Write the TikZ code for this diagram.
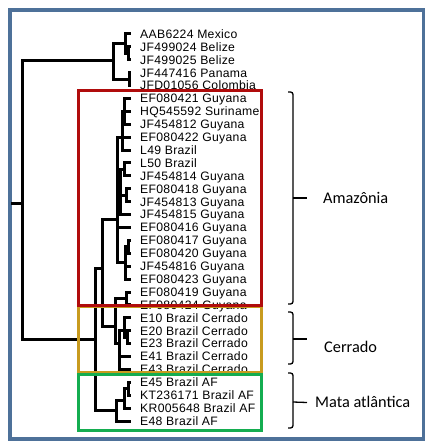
\documentclass[tikz,border=0pt]{standalone}
\usepackage{fontspec}
\setmainfont{Liberation Sans}
\newfontfamily\leaffont[LetterSpace=2.5]{Liberation Sans}
\newfontfamily\grpfont{Carlito}
\usepackage{xcolor}
\usepackage{tikz}

\definecolor{framebl}{HTML}{4E7199}
\definecolor{amzred}{HTML}{B00C0C}
\definecolor{cerrgold}{HTML}{C89B1F}
\definecolor{afgreen}{HTML}{14AD50}

\begin{document}
\begin{tikzpicture}[
  x=1pt, y=-1pt,
  leaf/.style={anchor=west, inner sep=0pt, text height=8.7pt, text depth=0pt, font=\leaffont\fontsize{12.2}{13}\selectfont},
  grp/.style={anchor=west, inner sep=0pt, text height=10.5pt, text depth=0pt, font=\grpfont\fontsize{16.3}{18}\selectfont},
  limb/.style={line width=3pt},
  twig/.style={line width=3pt, shorten >=9pt},
  brk/.style={line width=1.3pt, rounded corners=2.5pt},
  hbox/.style={line width=3pt}
]
\useasboundingbox (0,0) rectangle (432,446);
\draw[framebl, line width=3.5pt] (10,10) rectangle (423.5,439);

% sequences
\node[leaf] (l1)  at (140,34)    {AAB6224 Mexico};
\node[leaf] (l2)  at (140,46.9)  {JF499024 Belize};
\node[leaf] (l3)  at (140,59.8)  {JF499025 Belize};
\node[leaf] (l4)  at (140,72.7)  {JF447416 Panama};
\node[leaf] (l5)  at (140,85.6)  {JFD01056 Colombia};
\node[leaf] (l6)  at (140,98.5)  {EF080421 Guyana};
\node[leaf] (l7)  at (140,111.4) {HQ545592 Suriname};
\node[leaf] (l8)  at (140,124.3) {JF454812 Guyana};
\node[leaf] (l9)  at (140,137.2) {EF080422 Guyana};
\node[leaf] (l10) at (140,150.1) {L49 Brazil};
\node[leaf] (l11) at (140,163)   {L50 Brazil};
\node[leaf] (l12) at (140,175.9) {JF454814 Guyana};
\node[leaf] (l13) at (140,188.8) {EF080418 Guyana};
\node[leaf] (l14) at (140,201.7) {JF454813 Guyana};
\node[leaf] (l15) at (140,214.6) {JF454815 Guyana};
\node[leaf] (l16) at (140,227.5) {EF080416 Guyana};
\node[leaf] (l17) at (140,240.4) {EF080417 Guyana};
\node[leaf] (l18) at (140,253.3) {EF080420 Guyana};
\node[leaf] (l19) at (140,266.2) {JF454816 Guyana};
\node[leaf] (l20) at (140,279.1) {EF080423 Guyana};
\node[leaf] (l21) at (140,292)   {EF080419 Guyana};
\node[leaf] (l22) at (140,304.9) {EF080424 Guyana};
\node[leaf] (l23) at (140,317.8) {E10 Brazil Cerrado};
\node[leaf] (l24) at (140,330.7) {E20 Brazil Cerrado};
\node[leaf] (l25) at (140,343.6) {E23 Brazil Cerrado};
\node[leaf] (l26) at (140,356.5) {E41 Brazil Cerrado};
\node[leaf] (l27) at (140,369.4) {E43 Brazil Cerrado};
\node[leaf] (l28) at (140,382.3) {E45 Brazil AF};
\node[leaf] (l29) at (140,395.2) {KT236171 Brazil AF};
\node[leaf] (l30) at (140,408.1) {KR005648 Brazil AF};
\node[leaf] (l31) at (140,421)   {E48 Brazil AF};

% internal nodes
\coordinate (stm)  at (11,203);
\coordinate (root) at (22,203);
\coordinate (og)   at (113,61);
\coordinate (og1)  at (125,44);
\coordinate (og1a) at (128,53.4);
\coordinate (og2)  at (129,79.2);
\coordinate (ing)  at (95,339);
\coordinate (am0)  at (102,268);
\coordinate (amz)  at (117,219);
\coordinate (am1)  at (122,138);
\coordinate (am1a) at (124,111.4);
\coordinate (am2)  at (120,190);
\coordinate (am2a) at (124,169.5);
\coordinate (am2b) at (126,195.3);
\coordinate (am3)  at (125,262);
\coordinate (am3a) at (128,246.9);
\coordinate (cg)   at (115,326);
\coordinate (ef)   at (126,298.5);
\coordinate (ce)   at (119,343);
\coordinate (ce1)  at (124,330);
\coordinate (ce1a) at (127,337.2);
\coordinate (af)   at (116,410);
\coordinate (af1)  at (124,400);
\coordinate (af1a) at (128,388.8);

% tree
\draw[limb] (stm) -- (root);
\draw[limb] (root) |- (og);
\draw[limb] (root) |- (ing);
\draw[limb] (og) |- (og1);
\draw[limb] (og) |- (og2);
\draw[twig] (og1) |- (l1.west);
\draw[limb] (og1) |- (og1a);
\draw[twig] (og1a) |- (l2.west);
\draw[twig] (og1a) |- (l3.west);
\draw[twig] (og2) |- (l4.west);
\draw[twig] (og2) |- (l5.west);
\draw[limb] (ing) |- (am0);
\draw[limb] (ing) |- (af);
\draw[limb] (am0) |- (amz);
\draw[limb] (am0) |- (cg);
\draw[limb] (amz) |- (am1);
\draw[limb] (amz) |- (am2);
\draw[twig] (amz) |- (l16.west);
\draw[limb] (amz) |- (am3);
\draw[limb] (am1) |- (am1a);
\draw[twig] (am1a) |- (l6.west);
\draw[twig] (am1a) |- (l7.west);
\draw[twig] (am1a) |- (l8.west);
\draw[twig] (am1) |- (l9.west);
\draw[twig] (am1) |- (l10.west);
\draw[limb] (am2) |- (am2a);
\draw[limb] (am2) |- (am2b);
\draw[twig] (am2) |- (l15.west);
\draw[twig] (am2a) |- (l11.west);
\draw[twig] (am2a) |- (l12.west);
\draw[twig] (am2b) |- (l13.west);
\draw[twig] (am2b) |- (l14.west);
\draw[limb] (am3) |- (am3a);
\draw[twig] (am3a) |- (l17.west);
\draw[twig] (am3a) |- (l18.west);
\draw[twig] (am3) |- (l19.west);
\draw[twig] (am3) |- (l20.west);
\draw[limb] (cg) |- (ef);
\draw[limb] (cg) |- (ce);
\draw[twig] (ef) |- (l21.west);
\draw[twig] (ef) |- (l22.west);
\draw[limb] (ce) |- (ce1);
\draw[twig] (ce) |- (l26.west);
\draw[twig] (ce) |- (l27.west);
\draw[twig] (ce1) |- (l23.west);
\draw[limb] (ce1) |- (ce1a);
\draw[twig] (ce1a) |- (l24.west);
\draw[twig] (ce1a) |- (l25.west);
\draw[limb] (af) |- (af1);
\draw[twig] (af) |- (l31.west);
\draw[limb] (af1) |- (af1a);
\draw[twig] (af1) |- (l30.west);
\draw[twig] (af1a) |- (l28.west);
\draw[twig] (af1a) |- (l29.west);

% biome boxes
\draw[hbox, cerrgold] (78,306) rectangle (261,372.5);
\draw[hbox, afgreen]  (78,374) rectangle (261,430);
\draw[hbox, amzred]   (78,91) rectangle (261,305);

% biome labels
\node[grp] (amzl) at (323,198)   {Amazônia};
\node[grp] (cerl) at (324,347)   {Cerrado};
\node[grp] (mata) at (315,402.5) {Mata atlântica};

\draw[brk] (288,92) -- (293,92) -- (293,304) -- (288,304);
\draw[brk] (293,198) -- ([xshift=-16pt]amzl.west);
\draw[brk] (288,312) -- (293,312) -- (293,364) -- (288,364);
\draw[brk] (293,339) -- (307,339);
\draw[brk] (288,373) -- (293,373) -- (293,428) -- (288,428);
\draw[brk] (293,402) -- ([xshift=-8pt]mata.west);
\end{tikzpicture}
\end{document}
